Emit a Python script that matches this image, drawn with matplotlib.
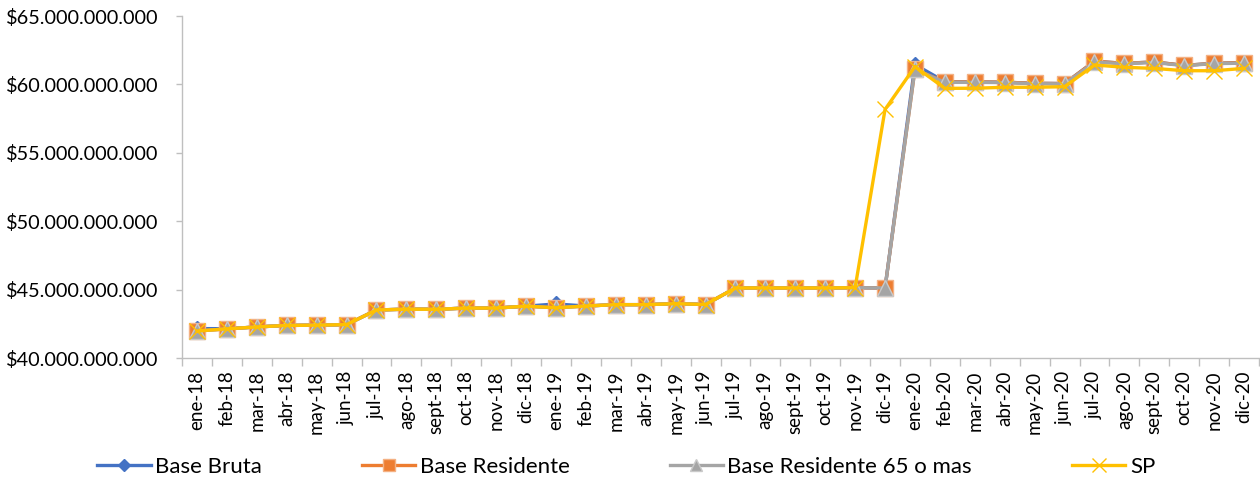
import numpy as np
import matplotlib
matplotlib.use("Agg")
import matplotlib.pyplot as plt
from matplotlib.ticker import FuncFormatter, FixedLocator

plt.rcParams['font.family'] = ['Lato', 'DejaVu Sans']

meses = ["ene-18", "feb-18", "mar-18", "abr-18", "may-18", "jun-18", "jul-18", "ago-18",
         "sept-18", "oct-18", "nov-18", "dic-18",
         "ene-19", "feb-19", "mar-19", "abr-19", "may-19", "jun-19", "jul-19", "ago-19",
         "sept-19", "oct-19", "nov-19", "dic-19",
         "ene-20", "feb-20", "mar-20", "abr-20", "may-20", "jun-20", "jul-20", "ago-20",
         "sept-20", "oct-20", "nov-20", "dic-20"]

# valores en miles de millones
base_bruta = [42.15, 42.14, 42.27, 42.38, 42.40, 42.44, 43.51, 43.57, 43.56, 43.65, 43.65, 43.79,
              43.95, 43.80, 43.90, 43.90, 43.97, 43.91, 45.12, 45.12, 45.12, 45.12, 45.14, 45.12,
              61.45, 60.20, 60.18, 60.16, 60.08, 60.06, 61.69, 61.54, 61.64, 61.39, 61.54, 61.59]

base_residente = [41.97, 42.13, 42.27, 42.38, 42.40, 42.44, 43.51, 43.57, 43.56, 43.65, 43.65, 43.79,
                  43.67, 43.80, 43.90, 43.90, 43.97, 43.91, 45.12, 45.12, 45.12, 45.12, 45.14, 45.12,
                  61.10, 60.18, 60.18, 60.16, 60.08, 60.06, 61.69, 61.54, 61.64, 61.39, 61.54, 61.59]

base_res_65 = [41.97, 42.13, 42.27, 42.38, 42.40, 42.44, 43.51, 43.57, 43.56, 43.65, 43.65, 43.79,
               43.67, 43.80, 43.90, 43.90, 43.97, 43.91, 45.12, 45.12, 45.12, 45.12, 45.14, 45.12,
               61.10, 60.15, 60.15, 60.13, 60.05, 60.04, 61.62, 61.52, 61.60, 61.37, 61.52, 61.55]

sp = [41.97, 42.13, 42.27, 42.38, 42.40, 42.44, 43.51, 43.57, 43.56, 43.65, 43.65, 43.79,
      43.67, 43.80, 43.90, 43.90, 43.97, 43.91, 45.12, 45.12, 45.12, 45.12, 45.14, 58.17,
      61.30, 59.71, 59.72, 59.79, 59.79, 59.83, 61.42, 61.25, 61.17, 61.00, 61.00, 61.17]

x = np.arange(len(meses))

fig = plt.figure(figsize=(12.6, 4.82), dpi=100)
ax = fig.add_axes([182/1260, 1-358/482, 1077/1260, 342/482])

series = [
    ("Base Bruta", base_bruta, "#4472C4", "D", 8, "#4472C4"),
    ("Base Residente", base_residente, "#ED7D31", "s", 11.5, "#F4B183"),
    ("Base Residente 65 o mas", base_res_65, "#A5A5A5", "^", 11.5, "#C9C9C9"),
    ("SP", sp, "#FFC000", "x", 12, "#FFC000"),
]
for nombre, vals, col, mk, ms, ec in series:
    ax.plot(x, np.array(vals)*1e9, color=col, lw=2.4, marker=mk, markersize=ms,
            markerfacecolor=col, markeredgecolor=ec, markeredgewidth=1.0, label=nombre)

ax.set_xlim(-0.5, len(meses)-0.5)
ax.set_ylim(40e9, 65e9)
ax.set_yticks(np.arange(40e9, 65.1e9, 5e9))
ax.yaxis.set_major_formatter(FuncFormatter(lambda v, p: "$" + f"{v:,.0f}".replace(",", ".")))

ax.set_xticks(x)
ax.set_xticklabels(meses, rotation=90)
ax.xaxis.set_minor_locator(FixedLocator(np.arange(-0.5, len(meses), 1)))
ax.tick_params(axis="x", which="major", length=0, pad=9, labelsize=13.5)
ax.tick_params(axis="x", which="minor", length=6, color="#BFBFBF", width=1)
ax.tick_params(axis="y", length=4, color="#BFBFBF", width=1, pad=13, labelsize=14.3)

for s in ["top", "right"]:
    ax.spines[s].set_visible(False)
for s in ["left", "bottom"]:
    ax.spines[s].set_color("#BFBFBF")
    ax.spines[s].set_linewidth(1)

fig.legend(loc="center", bbox_to_anchor=(0.497, 0.031), ncol=4, frameon=False,
           fontsize=16, handlelength=2.4, handletextpad=0.2, columnspacing=4.5,
           markerscale=0.8)

fig.savefig("out.png", dpi=100)
